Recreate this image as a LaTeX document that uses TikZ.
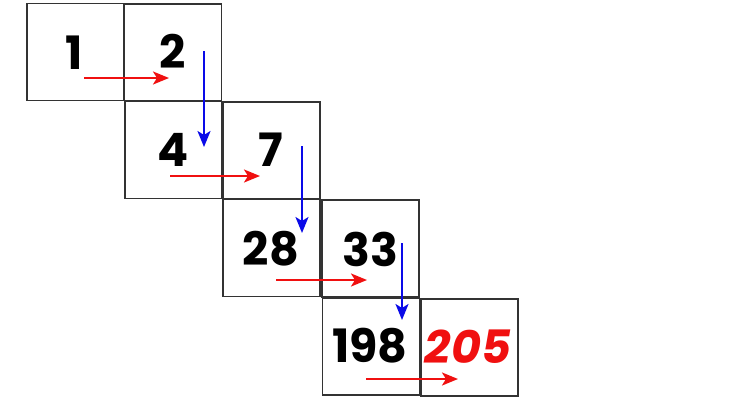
\documentclass[tikz,border=0pt]{standalone}
\usepackage{fontspec}
\setmainfont{Poppins}
\usetikzlibrary{arrows.meta}
\definecolor{boxgray}{HTML}{333333}
\definecolor{arrred}{HTML}{F01010}
\definecolor{arrblue}{HTML}{0A0AE8}
\tikzset{
  cell/.style={draw=boxgray,line width=1.6pt,minimum width=97pt,minimum height=97pt,inner sep=0pt,anchor=north west},
  num/.style={font=\fontsize{46}{46}\selectfont\bfseries,text=black,inner sep=0pt},
  rednum/.style={font=\fontsize{46}{46}\selectfont\bfseries\itshape,text=arrred,inner sep=0pt},
  redarr/.style={draw=arrred,line width=2.2pt,-{Stealth[length=16pt,width=13pt,inset=4pt]}},
  bluearr/.style={draw=arrblue,line width=2.2pt,-{Stealth[length=16pt,width=13pt,inset=4pt]}},
}
\begin{document}
\begin{tikzpicture}[x=1pt,y=-1pt]
\useasboundingbox[fill=white] (0,0) rectangle (730,400);
% cells
\node[cell] (c1) at (26,2.5) {};
\node[cell] (c2) at (123.5,3) {};
\node[cell] (c4) at (124,100.5) {};
\node[cell] (c7) at (222,101) {};
\node[cell] (c28) at (222,198.5) {};
\node[cell] (c33) at (321,199) {};
\node[cell] (c198) at (321.5,297) {};
\node[cell] (c205) at (420,298) {};
% numbers
\node[num] (n1) at (74,53) {1};
\node[num] (n2) at (173,51) {2};
\node[num] (n4) at (173,150) {4};
\node[num] (n7) at (271,150) {7};
\node[num] (n28) at (271,249) {28};
\node[num] (n33) at (370,249) {33};
\node[num] (n198) at (370,346) {198};
\node[rednum] (n205) at (468,347) {205};
% arrow coordinates
\coordinate (r1s) at (84,78);   \coordinate (r1e) at (169,78);
\coordinate (r2s) at (170,176); \coordinate (r2e) at (260,176);
\coordinate (r3s) at (276,280); \coordinate (r3e) at (367,280);
\coordinate (r4s) at (366,379); \coordinate (r4e) at (458,379);
\coordinate (b1s) at (204,51);  \coordinate (b1e) at (204,147);
\coordinate (b2s) at (302,146); \coordinate (b2e) at (302,233);
\coordinate (b3s) at (402,243); \coordinate (b3e) at (402,320);
\draw[redarr] (r1s) -- (r1e);
\draw[redarr] (r2s) -- (r2e);
\draw[redarr] (r3s) -- (r3e);
\draw[redarr] (r4s) -- (r4e);
\draw[bluearr] (b1s) -- (b1e);
\draw[bluearr] (b2s) -- (b2e);
\draw[bluearr] (b3s) -- (b3e);
\end{tikzpicture}
\end{document}
